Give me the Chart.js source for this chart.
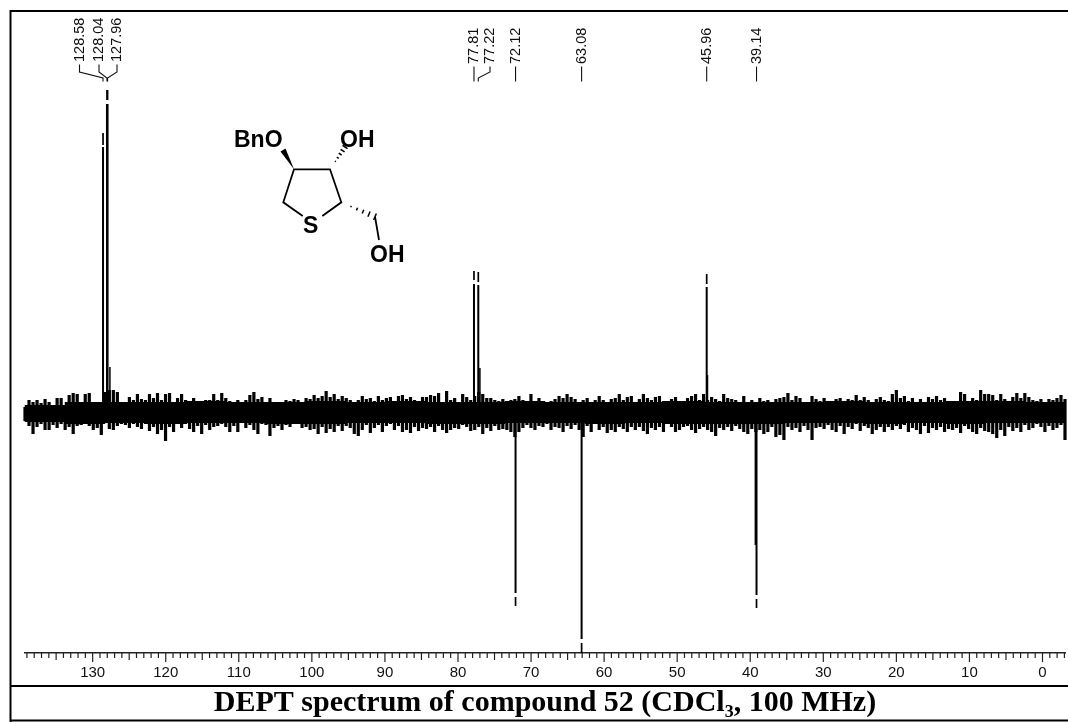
<!DOCTYPE html>
<html>
<head>
<meta charset="utf-8">
<title>DEPT spectrum</title>
<script src="https://cdn.jsdelivr.net/npm/chart.js@4"></script>
<style>
  html, body { margin: 0; padding: 0; background: #fff; }
  canvas { display: block; }
</style>
</head>
<body>
<canvas id="deptChart" width="1068" height="722"></canvas>
<script>
// chemical shift window of the plot (ppm)
var axisMin = -3.08;
var axisMax = 139.26;

var peakLabels = ["128.58", "128.04", "127.96", "77.81", "77.22", "72.12", "63.08", "45.96", "39.14"];
var peakShifts = [128.58, 128.04, 127.96, 77.81, 77.22, 72.12, 63.08, 45.96, 39.14];
// solid part of each peak, then the small piece past the white gap at its tip
var peakSolid = [265, 308, 308, 128, 127, -181, -227, 125, -183];
var peakTipFrom = [267, 312, 312, 132, 130, -185, -231, 128, -187];
var peakTipTo = [279, 322, 322, 141, 140, -194, -241, 138, -196];

// shoulders right next to the main lines
var shoulderShifts = [127.64, 77.0, 45.85, 39.3];
var shoulderValues = [45, 44, 37, -133];

// baseline noise read left to right: top and bottom of the band
var noiseHigh = [
  5, 12, 10, 12, 9, 13, 10, 5, 14, 14, 7, 17, 19, 18, 10, 18, 19, 9, 9, 8,
  20, 22, 22, 20, 10, 8, 15, 12, 18, 13, 12, 18, 14, 19, 12, 18, 19, 10, 14, 18,
  12, 10, 14, 10, 9, 12, 12, 18, 12, 19, 14, 11, 10, 12, 9, 12, 17, 20, 13, 15,
  10, 14, 9, 10, 8, 12, 11, 13, 12, 10, 14, 13, 17, 14, 16, 21, 15, 18, 13, 16,
  14, 12, 10, 12, 16, 13, 14, 11, 16, 12, 14, 15, 10, 16, 17, 13, 15, 12, 10, 15,
  15, 17, 16, 19, 10, 21, 12, 14, 10, 18, 15, 12, 16, 20, 18, 14, 14, 12, 11, 13,
  10, 12, 13, 16, 12, 10, 18, 11, 14, 9, 8, 11, 13, 16, 14, 18, 15, 13, 10, 12,
  14, 10, 12, 16, 12, 10, 13, 14, 18, 12, 15, 16, 10, 13, 18, 14, 12, 15, 16, 11,
  10, 13, 15, 11, 9, 14, 16, 18, 12, 18, 12, 15, 13, 11, 18, 14, 13, 12, 8, 16,
  9, 12, 10, 14, 11, 12, 10, 13, 14, 15, 19, 12, 16, 14, 10, 9, 16, 13, 11, 14,
  10, 11, 13, 14, 8, 13, 12, 17, 12, 15, 12, 10, 13, 15, 12, 11, 18, 22, 14, 16,
  11, 14, 9, 13, 10, 15, 13, 16, 12, 14, 9, 8, 11, 20, 18, 11, 14, 12, 22, 18,
  18, 17, 12, 18, 13, 11, 15, 19, 14, 19, 15, 12, 11, 13, 10, 13, 12, 14, 17, 13
];
var noiseLow = [
  -9, -14, -22, -15, -12, -18, -18, -13, -16, -12, -18, -15, -22, -14, -13, -12, -14, -18, -16, -23,
  -10, -17, -18, -14, -12, -13, -16, -12, -15, -17, -12, -19, -15, -22, -18, -29, -15, -20, -12, -16,
  -12, -17, -20, -14, -22, -13, -18, -15, -14, -12, -15, -20, -14, -20, -10, -16, -13, -18, -22, -12,
  -13, -24, -16, -14, -18, -13, -15, -12, -10, -16, -15, -18, -17, -22, -15, -21, -17, -20, -14, -19,
  -14, -16, -22, -24, -18, -13, -21, -16, -13, -20, -14, -12, -18, -14, -20, -18, -21, -15, -19, -16,
  -17, -15, -20, -14, -18, -21, -18, -16, -17, -13, -15, -19, -18, -15, -22, -16, -19, -14, -18, -17,
  -18, -20, -25, -20, -16, -13, -16, -18, -14, -15, -12, -18, -15, -16, -20, -14, -17, -13, -18, -25,
  -14, -20, -12, -18, -15, -21, -18, -20, -15, -17, -20, -15, -18, -15, -19, -22, -16, -18, -15, -20,
  -12, -15, -20, -18, -15, -14, -18, -21, -17, -15, -18, -20, -24, -16, -18, -15, -19, -14, -17, -20,
  -22, -17, -20, -18, -22, -20, -15, -25, -23, -28, -15, -18, -16, -20, -14, -18, -28, -16, -15, -17,
  -13, -18, -20, -14, -22, -15, -17, -12, -19, -14, -16, -22, -18, -15, -20, -15, -18, -14, -17, -13,
  -20, -16, -18, -22, -14, -21, -16, -18, -15, -20, -17, -18, -16, -21, -14, -17, -20, -22, -16, -19,
  -20, -22, -26, -18, -24, -15, -19, -16, -20, -13, -18, -16, -12, -15, -20, -14, -18, -16, -13, -28
];
// solid middle of the band, one reading per 40 px or so
var coreTop = [7, 10, 10, 10, 11, 10, 10, 11, 10, 11, 10, 10, 11, 10, 10, 10, 11, 10, 10, 10, 11, 10, 10, 11, 11, 10];
var coreBottom = [-10, -12, -11, -12, -11, -11, -12, -12, -11, -11, -12, -12, -11, -11, -12, -11, -12, -12, -12, -11, -11, -12, -11, -12, -11, -11];

var titleText = "DEPT spectrum of compound 52 (CDCl\u2083, 100 MHz)";

// noise samples are evenly spaced in ppm across the window
function noiseShifts() {
  var shifts = [];
  var step = (axisMax - axisMin) / (noiseHigh.length - 1);
  for (var i = 0; i < noiseHigh.length; i++) {
    shifts.push(axisMax - step * i);
  }
  return shifts;
}

function coreShifts() {
  var shifts = [];
  var step = (axisMax - axisMin) / coreTop.length;
  for (var i = 0; i < coreTop.length; i++) {
    shifts.push(axisMax - step * (i + 0.5));
  }
  return shifts;
}

function buildSticks(shifts, from, to) {
  var points = [];
  for (var i = 0; i < shifts.length; i++) {
    points.push({ x: shifts[i], y: Array.isArray(from) ? from[i] : from });
    points.push({ x: shifts[i], y: to[i] });
    points.push({ x: shifts[i], y: null });
  }
  return points;
}

function line(ctx, pts) {
  ctx.beginPath();
  ctx.moveTo(pts[0][0], pts[0][1]);
  for (var i = 1; i < pts.length; i++) {
    ctx.lineTo(pts[i][0], pts[i][1]);
  }
  ctx.stroke();
}

function hashBond(ctx, x1, y1, x2, y2, count, maxWidth) {
  var dx = x2 - x1;
  var dy = y2 - y1;
  var len = Math.sqrt(dx * dx + dy * dy);
  for (var i = 1; i <= count; i++) {
    var t = i / count;
    var half = (maxWidth * t) / 2;
    var mx = x1 + dx * t;
    var my = y1 + dy * t;
    line(ctx, [
      [mx - (dy / len) * half, my + (dx / len) * half],
      [mx + (dy / len) * half, my - (dx / len) * half],
    ]);
  }
}

// structure of the compound, pasted over the empty part of the plot
function drawMolecule(ctx) {
  ctx.strokeStyle = "#000";
  ctx.fillStyle = "#000";
  ctx.lineWidth = 1.8;
  line(ctx, [[302.7, 216], [283.3, 202.3], [294, 169.3], [330, 169.3], [341.3, 202.3], [322.3, 216]]);
  line(ctx, [[375, 216.7], [379, 240]]);

  ctx.beginPath();
  ctx.moveTo(294, 169.3);
  ctx.lineTo(280.5, 151.5);
  ctx.lineTo(285.5, 148.5);
  ctx.closePath();
  ctx.fill();

  ctx.lineWidth = 1.5;
  hashBond(ctx, 333, 165, 345, 147, 5, 6);
  hashBond(ctx, 345, 204, 375, 216.7, 5, 7);

  ctx.font = "bold 23px 'Liberation Sans'";
  ctx.textAlign = "left";
  ctx.textBaseline = "middle";
  ctx.fillText("BnO", 234, 141);
  ctx.fillText("OH", 340, 141);
  ctx.fillText("S", 303, 227);
  ctx.fillText("OH", 370, 256);
}

function drawPeakLabels(ctx, xScale) {
  // where each label sits along the top of the page
  var labelX = [79.5, 99, 117, 0, 490, 0, 0, 0, 0];
  var labelY = [62, 62, 62, 64, 64, 64, 64, 64, 64];
  ctx.font = "14.5px 'Liberation Sans'";
  ctx.textAlign = "left";
  ctx.textBaseline = "middle";
  for (var i = 0; i < peakLabels.length; i++) {
    var px = xScale.getPixelForValue(peakShifts[i]);
    var lx = labelX[i] || px;
    ctx.fillStyle = "#111";
    ctx.save();
    ctx.translate(lx, labelY[i]);
    ctx.rotate(-Math.PI / 2);
    ctx.fillText(peakLabels[i], 0, 0);
    ctx.restore();

    ctx.strokeStyle = "#111";
    ctx.lineWidth = 1.1;
    if (labelX[i]) {
      line(ctx, [[lx, labelY[i] + 2.5], [lx, 72], [px, 78], [px, 81.5]]);
    } else {
      line(ctx, [[px, labelY[i] + 2.5], [px, 81.5]]);
    }
  }
}

function drawTicks(ctx, xScale) {
  var y = xScale.top;
  ctx.strokeStyle = "#222";
  ctx.lineWidth = 1.2;
  xScale.ticks.forEach(function (tick) {
    var v = Math.round(tick.value);
    var len = v % 10 === 0 ? 9 : v % 5 === 0 ? 7 : 5;
    var x = xScale.getPixelForValue(tick.value);
    line(ctx, [[x, y], [x, y + len]]);
  });
}

function drawFrame(ctx) {
  ctx.strokeStyle = "#000";
  ctx.lineWidth = 2;
  line(ctx, [[1068, 11], [10.5, 11], [10.5, 722]]);
  line(ctx, [[10.5, 686], [1068, 686]]);
  line(ctx, [[10.5, 720.5], [1068, 720.5]]);
}

var pagePlugin = {
  id: "page",
  afterDraw: function (chart) {
    var ctx = chart.ctx;
    ctx.save();
    drawTicks(ctx, chart.scales.x);
    drawPeakLabels(ctx, chart.scales.x);
    drawMolecule(ctx);
    drawFrame(ctx);
    ctx.restore();
  },
};

new Chart(document.getElementById("deptChart").getContext("2d"), {
  type: "scatter",
  data: {
    datasets: [
      { data: buildSticks(coreShifts(), coreBottom, coreTop), borderWidth: 40.5 },
      { data: buildSticks(noiseShifts(), noiseLow, noiseHigh), borderWidth: 3.2 },
      { data: buildSticks(peakShifts, 0, peakSolid), borderWidth: 2 },
      { data: buildSticks(peakShifts, peakTipFrom, peakTipTo), borderWidth: 1.7 },
      { data: buildSticks(shoulderShifts, 0, shoulderValues), borderWidth: 1.5 },
    ],
  },
  options: {
    responsive: false,
    animation: false,
    showLine: true,
    spanGaps: false,
    clip: false,
    layout: {
      autoPadding: false,
      padding: { left: 25, right: 3, top: 20, bottom: 0 },
    },
    elements: {
      point: { radius: 0, hoverRadius: 0 },
      line: { borderColor: "#000", tension: 0 },
    },
    plugins: {
      legend: { display: false },
      tooltip: { enabled: false },
      title: {
        display: true,
        position: "bottom",
        text: titleText,
        color: "#000",
        font: { family: "'Liberation Serif'", size: 30, weight: "bold", lineHeight: 1.1 },
        padding: { top: 0, bottom: 2 },
      },
    },
    scales: {
      x: {
        type: "linear",
        reverse: true,
        min: axisMin,
        max: axisMax,
        afterFit: function (scale) {
          scale.height = 34;
          scale.paddingLeft = 0;
          scale.paddingRight = 0;
        },
        border: { display: true, color: "#222", width: 1.5 },
        grid: { display: false, drawTicks: false },
        ticks: {
          stepSize: 1,
          autoSkip: false,
          includeBounds: false,
          maxTicksLimit: 200,
          maxRotation: 0,
          padding: 11,
          color: "#111",
          font: { family: "'Liberation Sans'", size: 15 },
          callback: function (value) {
            var v = Math.round(value);
            return v % 10 === 0 ? String(v) : "";
          },
        },
      },
      y: {
        display: false,
        min: -241,
        max: 392,
      },
    },
  },
  plugins: [pagePlugin],
});
</script>
</body>
</html>
